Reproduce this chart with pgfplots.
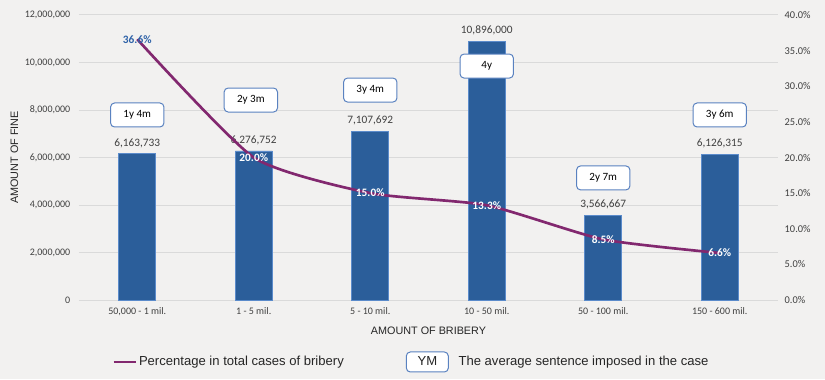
\documentclass[border=0pt]{standalone}
\usepackage{pgfplots}
\pgfplotsset{compat=1.18}
\usepackage{fontspec}
\setmainfont{Carlito}
\newfontfamily\arial{Liberation Sans}
\definecolor{bg}{HTML}{F2F1F0}
\definecolor{barblue}{HTML}{2B5E9A}
\definecolor{baredge}{HTML}{5B8BCB}
\definecolor{linepurple}{HTML}{82286F}
\definecolor{boxblue}{HTML}{5A82C0}
\definecolor{labblue}{HTML}{2E62A8}
\definecolor{gridc}{HTML}{DADADA}
\definecolor{txt}{HTML}{404040}
\definecolor{dtxt}{HTML}{262626}
\begin{document}
\begin{tikzpicture}
\fill[bg] (-59.25pt,-59.25pt) rectangle (559.5pt,225pt);
\begin{axis}[
  at={(0pt,0pt)}, anchor=south west,
  scale only axis, width=524.25pt, height=213.75pt,
  xmin=-0.5, xmax=5.5, ymin=0, ymax=12000000,
  xtick={0,1,2,3,4,5},
  xticklabels={{50,000 - 1 mil.},{1 - 5 mil.},{5 - 10 mil.},{10 - 50 mil.},{50 - 100 mil.},{150 - 600 mil.}},
  ytick={0,2000000,4000000,6000000,8000000,10000000,12000000},
  scaled y ticks=false,
  /pgf/number format/assume math mode=true,
  yticklabel style={/pgf/number format/fixed, /pgf/number format/1000 sep={,}, font=\fontsize{7.5}{9}\selectfont, text=txt, xshift=-3pt},
  xticklabel style={font=\fontsize{7.5}{9}\selectfont, text=txt, yshift=-2pt},
  ymajorgrids, grid style={gridc, line width=0.75pt},
  axis line style={draw=none},
  major tick length=0pt,
  xlabel={AMOUNT OF BRIBERY}, ylabel={AMOUNT OF FINE},
  xlabel style={font=\arial\fontsize{8.1}{10}\selectfont, text=dtxt, yshift=-1.5pt},
  ylabel style={font=\arial\fontsize{8.1}{10}\selectfont, text=dtxt, yshift=-2pt},
  clip=false,
]
\addplot[ybar, bar width=27.75pt, fill=barblue, draw=baredge, line width=0.5pt,
  nodes near coords, point meta=explicit symbolic,
  nodes near coords style={font=\fontsize{8.5}{10}\selectfont, text=txt, anchor=south, yshift=1pt}, forget plot]
  coordinates {(0,6163733) [{6,163,733}] (1,6276752) [{6,276,752}] (2,7107692) [{7,107,692}]
               (3,10896000) [{10,896,000}] (4,3566667) [{3,566,667}] (5,6126315) [{6,126,315}]};
\addplot[draw=none, mark=none, nodes near coords, point meta=explicit symbolic,
  nodes near coords style={anchor=center, draw=boxblue, fill=white, rounded corners=3pt,
    minimum width=40pt, minimum height=18pt, line width=0.75pt, font=\fontsize{8.3}{10}\selectfont, text=black}, forget plot]
  coordinates {(0,7790000) [1y 4m] (0.975,8420000) [2y 3m] (2,8840000) [3y 4m]
               (3,9850000) [4y] (4,5140000) [2y 7m] (5,7790000) [3y 6m]};
\end{axis}
\begin{axis}[
  at={(0pt,0pt)}, anchor=south west,
  scale only axis, width=524.25pt, height=213.75pt,
  xmin=-0.5, xmax=5.5, ymin=0, ymax=40,
  axis x line=none, axis y line*=right,
  axis line style={draw=none}, major tick length=0pt,
  ytick={0,5,10,15,20,25,30,35,40},
  /pgf/number format/assume math mode=true,
  yticklabel={\pgfmathprintnumber[fixed,fixed zerofill,precision=1]{\tick}\%},
  yticklabel style={font=\fontsize{7.8}{9}\selectfont, text=txt, xshift=1.5pt},
  clip=false,
  legend columns=2,
  legend style={at={(0.475,-0.2175)}, anchor=center, draw=none, fill=none,
    font=\arial\fontsize{9.8}{11}\selectfont, text=dtxt,
    nodes={inner xsep=1pt},
    /tikz/every even column/.append style={column sep=45.5pt}},
]
\addplot[linepurple, line width=2pt, smooth, tension=0.35, mark=none,
  nodes near coords, point meta=explicit symbolic,
  nodes near coords style={anchor=center, font=\bfseries\fontsize{8.5}{10}\selectfont, text=white}]
  coordinates {(0,36.6) [\textcolor{labblue}{36.6\%}] (1,20.0) [20.0\%] (2,15.0) [15.0\%]
               (3,13.3) [13.3\%] (4,8.5) [8.5\%] (5,6.6) [6.6\%]};
\addlegendentry{Percentage in total cases of bribery}
\addlegendimage{legend image code/.code={\node[draw=boxblue, fill=white, rounded corners=3pt, line width=0.75pt, minimum width=31.5pt, minimum height=15pt, inner sep=0pt, font=\arial\fontsize{9.8}{11}\selectfont, text=dtxt] at (15.75pt,0) {YM};\path (38pt,0);}}
\addlegendentry{The average sentence imposed in the case}
\end{axis}
\pgfresetboundingbox
\path (-59.25pt,-59.25pt) rectangle (559.5pt,225pt);
\end{tikzpicture}
\end{document}
